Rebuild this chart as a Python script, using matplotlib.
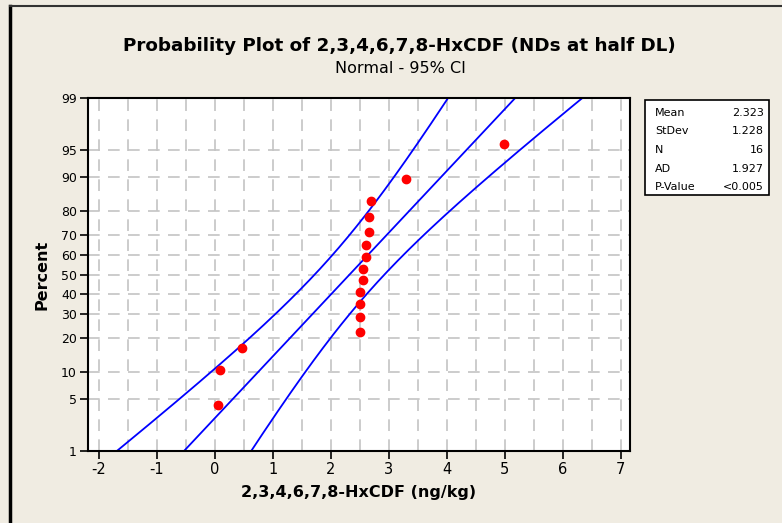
#Probability plot of HxCDF, normal scale with 95% CI bands.
import numpy as np
import matplotlib
matplotlib.use('Agg')
import matplotlib.pyplot as plt
from matplotlib.lines import Line2D
from matplotlib.patches import Rectangle
from statistics import NormalDist

#Data.
hxcdf = [0.05, 0.08, 0.47, 2.50, 2.50, 2.50, 2.50, 2.55, 2.55,
         2.61, 2.61, 2.66, 2.66, 2.69, 3.29, 4.99]
percents = [4.3, 10.4, 16.5, 22.6, 28.7, 34.8, 40.9, 47.0, 53.0,
            59.1, 65.2, 71.3, 77.4, 83.5, 89.6, 95.7]
pct_ticks = [1, 5, 10, 20, 30, 40, 50, 60, 70, 80, 90, 95, 99]
x_ticks = [-2, -1, 0, 1, 2, 3, 4, 5, 6, 7]
mean = 2.323
stdev = 1.228
n = 16
stat_names = ['Mean', 'StDev', 'N', 'AD', 'P-Value']
stat_values = ['2.323', '1.228', '16', '1.927', '<0.005']

nd = NormalDist()
def z(p):
    return nd.inv_cdf(p / 100.0)

bg = '#F0ECE2'
fig = plt.figure(figsize=(7.82, 5.23), dpi=100, facecolor=bg)
ax = fig.add_axes([88/782, 1 - 451/523, 542/782, 353/523])
ax.set_facecolor('white')

#Fitted line and 95% CI bands
zz = np.linspace(-2.8, 2.8, 200)
fit = mean + stdev * zz
half = 1.96 * np.sqrt(stdev**2 / n + zz**2 * stdev**2 / (2 * n))
ax.plot(fit, zz, color='#0000FF', lw=1.3)
ax.plot(fit - half, zz, color='#0000FF', lw=1.3)
ax.plot(fit + half, zz, color='#0000FF', lw=1.3)

#Points
ax.plot(hxcdf, [z(p) for p in percents], 'o', color='#FF0000', ms=6, mec='#FF0000', zorder=5)

ax.set_xlim(-2.19, 7.16)
ax.set_ylim(z(1), z(99))
ax.set_xticks(x_ticks)
ax.set_xticklabels([str(t) for t in x_ticks], fontsize=10.5)
ax.set_yticks([z(p) for p in pct_ticks])
ax.set_yticklabels([str(p) for p in pct_ticks], fontsize=9)
ax.tick_params(direction='out', length=6, width=1.2, pad=2)

#Grid
for gx in np.arange(-2, 7.01, 0.5):
    ax.axvline(gx, color='#C4C4C4', lw=1.2, ls=(0, (7, 5)), zorder=0)
for p in pct_ticks[1:-1]:
    ax.axhline(z(p), color='#C4C4C4', lw=1.2, ls=(0, (7, 5)), zorder=0)

for s in ax.spines.values():
    s.set_linewidth(1.5)

ax.set_xlabel('2,3,4,6,7,8-HxCDF (ng/kg)', fontsize=11.5, fontweight='bold', labelpad=6)
ax.set_ylabel('Percent', fontsize=11.5, fontweight='bold', labelpad=8)

fig.text(399/782, 1 - 46/523, 'Probability Plot of 2,3,4,6,7,8-HxCDF (NDs at half DL)',
         ha='center', va='center', fontsize=13.2, fontweight='bold')
fig.text(400/782, 1 - 69/523, 'Normal - 95% CI', ha='center', va='center', fontsize=11.5)

#Stats box
fig.add_artist(Rectangle((645/782, 1 - 195/523), 124/782, 95/523, transform=fig.transFigure,
                         facecolor='white', edgecolor='black', lw=1.2))
for i, (nm, v) in enumerate(zip(stat_names, stat_values)):
    yy = 1 - (113 + i * 18.5) / 523
    fig.text(655/782, yy, nm, ha='left', va='center', fontsize=8)
    fig.text(764/782, yy, v, ha='right', va='center', fontsize=8)

#Outer frame (left and top)
fig.add_artist(Line2D([9.5/782, 9.5/782], [0, 1 - 6/523], transform=fig.transFigure, color='black', lw=2.5))
fig.add_artist(Line2D([9.5/782, 1], [1 - 6/523, 1 - 6/523], transform=fig.transFigure, color='#333333', lw=1.5))

fig.savefig('out.png', dpi=100, facecolor=bg)
